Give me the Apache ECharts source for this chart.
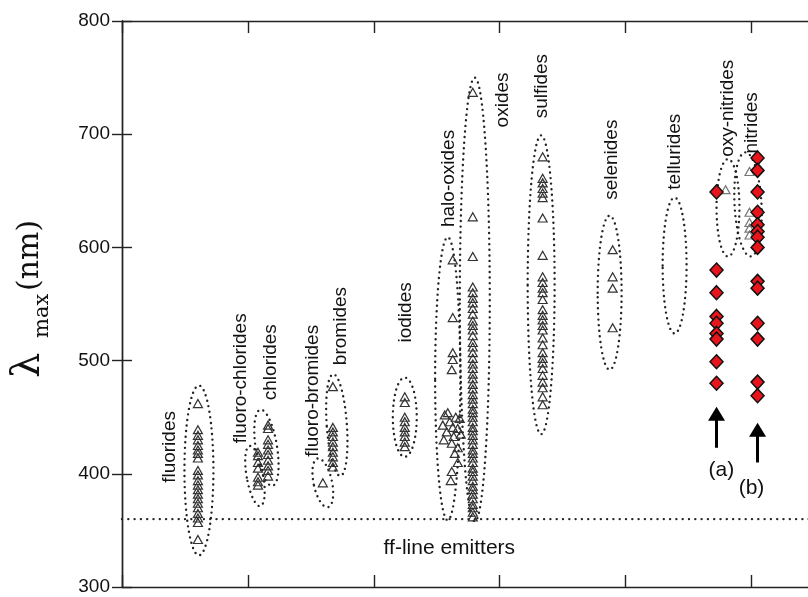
<!DOCTYPE html>
<html>
<head>
<meta charset="utf-8">
<script src="https://cdn.jsdelivr.net/npm/echarts@6/dist/echarts.min.js"></script>
<style>
  html, body { margin: 0; padding: 0; background: #fff; }
  #chart { width: 808px; height: 597px; }
</style>
</head>
<body>
<div id="chart"></div>
<script>
// Emission maxima (nm) of phosphor host families
const yTickValues = [300, 400, 500, 600, 700, 800];
const fluorides = [462, 439, 434, 430, 425, 421, 418, 414, 403, 399, 394, 390, 386, 382, 378, 374, 370, 365, 361, 357, 342];
const fluoroChlorides = [419, 416, 410, 405, 397, 393, 390];
const chlorides = [443, 440, 430, 426, 421, 417, 412, 407, 403, 398];
const fluoroBromides = [392];
const bromides = [477, 441, 437, 433, 428, 424, 419, 415, 410, 406];
const iodides = [468, 463, 450, 446, 441, 437, 433, 428, 424];
const haloOxides = [589, 538, 507, 501, 492, 454, 452, 450, 449, 446, 443, 441, 440, 437, 435, 433, 430, 427, 423, 418, 410, 402, 394];
const oxides = [737, 627, 592, 565, 560, 555, 551, 546, 541, 535, 531, 527, 522, 516, 512, 507, 502, 497, 493, 488, 484, 479, 475, 470, 466, 462, 457, 454, 450, 446, 441, 438, 434, 430, 426, 421, 418, 414, 410, 405, 402, 398, 394, 389, 386, 382, 378, 373, 370, 366, 362];
const sulfides = [680, 661, 657, 652, 648, 644, 626, 593, 574, 569, 564, 560, 554, 545, 540, 536, 531, 527, 520, 514, 507, 502, 498, 493, 487, 481, 476, 468, 461];
const selenides = [598, 574, 564, 529];
const oxyNitrides = [651];
const nitrides = [667, 631, 622, 617, 611];
const seriesA = [649, 580, 560, 539, 533, 524, 519, 499, 480];
const seriesB = [679, 668, 649, 631, 620, 614, 609, 600, 570, 564, 533, 519, 481, 469];
const ffLineLevel = 360;

// Family names, drawn vertically above each group
const familyNames = ['fluorides', 'fluoro-chlorides', 'chlorides', 'fluoro-bromides', 'bromides', 'iodides',
  'halo-oxides', 'oxides', 'sulfides', 'selenides', 'tellurides', 'oxy-nitrides', 'nitrides'];

// ---- layout (axis units) ----
const X_MAX = 5.52;
const UNIT_PX = 126;                       // pixels per x unit, used for small jitters
const columnX = {
  fluorides: 0.603, fluoroChlorides: 1.08, chlorides: 1.16, fluoroBromides: 1.595, bromides: 1.675,
  iodides: 2.246, haloOxides: 2.627, oxides: 2.786, sulfides: 3.341, selenides: 3.897,
  oxyNitrides: 4.794, nitrides: 4.984, a: 4.722, b: 5.048
};
// horizontal spread of the crowded halo-oxide points (px)
const haloJitter = [0, 0, 0, 0, -1, -5, -8, 3, 7, -3, -10, 0, 5, -6, 8, 1, -9, -1, 5, 2, 5, -1, -2];

// group outlines: [centre x, centre y, half width (x units), half height (nm), tilt deg]
const outlines = [
  [0.611, 403, 0.115, 75, 0],
  [1.056, 398, 0.066, 27, -10],
  [1.147, 423, 0.085, 34, -9],
  [1.595, 392, 0.073, 22, -12],
  [1.706, 443, 0.08, 45, -4],
  [2.246, 450, 0.095, 35, 0],
  [2.587, 484, 0.1, 125, 0],
  [2.802, 554, 0.119, 196, 0],
  [3.329, 567, 0.107, 132, 0],
  [3.873, 560, 0.095, 68, 0],
  [4.389, 584, 0.095, 60, 0],
  [4.813, 635, 0.091, 43, 0],
  [4.972, 638, 0.107, 46, -3]
];
// anchor of each family name: [x, lower end of text in nm]
const nameAnchors = [
  [0.38, 392], [0.94, 427], [1.18, 465], [1.515, 415], [1.74, 496], [2.25, 516],
  [2.595, 618], [3.024, 706], [3.333, 714], [3.889, 642], [4.389, 651], [4.81, 680], [5.0, 683]
];

const FONT = "'Liberation Sans', Arial, Helvetica, sans-serif";
const SERIF = "'DejaVu Serif', 'Liberation Serif', serif";

const triStyle = { color: 'rgba(255,255,255,0)', borderColor: '#333', borderWidth: 1.2, opacity: 1 };
const diamondStyle = { color: '#e8141b', borderColor: '#111', borderWidth: 1.5, opacity: 1 };

function column(values, x) { return values.map(v => [x, v]); }

function triangles(name, data, opts) {
  return Object.assign({
    name, type: 'scatter', data, symbol: 'triangle', symbolSize: [9, 8],
    itemStyle: triStyle, z: 4, animation: false, silent: true
  }, opts || {});
}

const chart = echarts.init(document.getElementById('chart'), null, { renderer: 'canvas' });

const textItems = [];
familyNames.forEach((n, i) => textItems.push({ value: [nameAnchors[i][0], nameAnchors[i][1]], name: n, rot: 90, align: 'left', size: 19 }));
textItems.push({ value: [2.6, 334], name: 'ff-line emitters', rot: 0, align: 'center', size: 21 });
textItems.push({ value: [4.76, 403], name: '(a)', rot: 0, align: 'center', size: 21 });
textItems.push({ value: [5.0, 387], name: '(b)', rot: 0, align: 'center', size: 21 });

const axisLine = { show: true, lineStyle: { color: '#222', width: 1.4 } };

const option = {
  backgroundColor: '#fff',
  animation: false,
  grid: { left: 122, top: 21, width: 695, height: 566, containLabel: false, outerBoundsMode: 'none' },
  xAxis: [
    { type: 'value', position: 'bottom', min: 0, max: X_MAX, interval: 1, axisLine,
      axisTick: { show: true, inside: true, length: 12, lineStyle: { color: '#222', width: 1.4 } },
      axisLabel: { show: false }, splitLine: { show: false } },
    { type: 'value', position: 'top', min: 0, max: X_MAX, interval: 1, axisLine,
      axisTick: { show: true, inside: true, length: 12, lineStyle: { color: '#222', width: 1.4 } },
      axisLabel: { show: false }, splitLine: { show: false } }
  ],
  yAxis: [
    { type: 'value', position: 'left', min: yTickValues[0], max: yTickValues[yTickValues.length - 1], interval: 100, axisLine,
      axisTick: { show: true, inside: true, length: 10, lineStyle: { color: '#222', width: 1.4 } },
      axisLabel: { show: true, margin: 12, color: '#111', fontSize: 19, fontFamily: FONT },
      splitLine: { show: false } },
    { type: 'value', position: 'right', min: yTickValues[0], max: yTickValues[yTickValues.length - 1], interval: 100, axisLine,
      axisTick: { show: true, inside: true, length: 10, lineStyle: { color: '#222', width: 1.4 } },
      axisLabel: { show: false }, splitLine: { show: false } }
  ],
  graphic: [
    { type: 'text', x: 29, y: 378, rotation: Math.PI / 2,
      style: { text: 'λ', fontSize: 40, fontFamily: SERIF, fill: '#111', align: 'left', verticalAlign: 'middle' } },
    { type: 'text', x: 43, y: 338, rotation: Math.PI / 2,
      style: { text: 'max', fontSize: 21, fontFamily: SERIF, fill: '#111', align: 'left', verticalAlign: 'middle' } },
    { type: 'text', x: 30, y: 291, rotation: Math.PI / 2,
      style: { text: '(nm)', fontSize: 30, fontFamily: SERIF, fill: '#111', align: 'left', verticalAlign: 'middle' } }
  ],
  series: [
    // dotted outlines around each family
    {
      type: 'custom', name: 'outlines', data: outlines, z: 2, silent: true,
      renderItem(params, api) {
        const c = api.coord([api.value(0), api.value(1)]);
        const s = api.size([api.value(2), api.value(3)]);
        return {
          type: 'ellipse', x: c[0], y: c[1], rotation: -api.value(4) * Math.PI / 180,
          shape: { cx: 0, cy: 0, rx: s[0], ry: s[1] },
          style: { fill: 'none', stroke: '#222', lineWidth: 2.4, lineDash: [0, 5.6], lineCap: 'round' }
        };
      }
    },
    // ff-line emitter level
    {
      type: 'line', name: 'ff-line', data: [[0, ffLineLevel], [X_MAX, ffLineLevel]], symbol: 'none', z: 1, silent: true,
      lineStyle: { color: '#222', width: 2.4, type: [0, 6.3], cap: 'round' }
    },
    triangles('fluorides', column(fluorides, columnX.fluorides)),
    triangles('fluoro-chlorides', column(fluoroChlorides, columnX.fluoroChlorides)),
    triangles('chlorides', column(chlorides, columnX.chlorides)),
    triangles('fluoro-bromides', column(fluoroBromides, columnX.fluoroBromides)),
    triangles('bromides', column(bromides, columnX.bromides)),
    triangles('iodides', column(iodides, columnX.iodides)),
    triangles('halo-oxides', haloOxides.map((v, i) => [columnX.haloOxides + haloJitter[i] / UNIT_PX, v])),
    triangles('oxides', column(oxides, columnX.oxides)),
    triangles('sulfides', column(sulfides, columnX.sulfides)),
    triangles('selenides', column(selenides, columnX.selenides)),
    triangles('oxy-nitrides', column(oxyNitrides, columnX.oxyNitrides), { itemStyle: Object.assign({}, triStyle, { borderColor: '#777' }) }),
    triangles('nitrides', column(nitrides, columnX.nitrides), { itemStyle: Object.assign({}, triStyle, { borderColor: '#777' }) }),
    {
      type: 'scatter', name: '(a)', data: column(seriesA, columnX.a), symbol: 'diamond', symbolSize: [13, 14], z: 5, silent: true,
      itemStyle: diamondStyle,
      markLine: {
        silent: true, animation: false, symbol: ['none', 'triangle'], symbolSize: [17, 14],
        label: { show: false }, lineStyle: { color: '#000', width: 3, type: 'solid' },
        data: [[{ coord: [columnX.a, 423] }, { coord: [columnX.a, 453] }]]
      }
    },
    {
      type: 'scatter', name: '(b)', data: column(seriesB, columnX.b), symbol: 'diamond', symbolSize: [13, 14], z: 5, silent: true,
      itemStyle: diamondStyle,
      markLine: {
        silent: true, animation: false, symbol: ['none', 'triangle'], symbolSize: [17, 14],
        label: { show: false }, lineStyle: { color: '#000', width: 3, type: 'solid' },
        data: [[{ coord: [columnX.b, 410] }, { coord: [columnX.b, 439] }]]
      }
    },
    // text annotations
    {
      type: 'custom', name: 'names', z: 6, silent: true,
      data: textItems.map(t => ({ value: t.value, name: t.name })),
      renderItem(params, api) {
        const item = textItems[params.dataIndex];
        const p = api.coord(item.value);
        return {
          type: 'text', x: p[0], y: p[1], rotation: item.rot * Math.PI / 180,
          style: { text: item.name, fontSize: item.size, fontFamily: FONT, fill: '#111',
                   align: item.align, verticalAlign: 'middle' }
        };
      }
    }
  ]
};
chart.setOption(option);
</script>
</body>
</html>
